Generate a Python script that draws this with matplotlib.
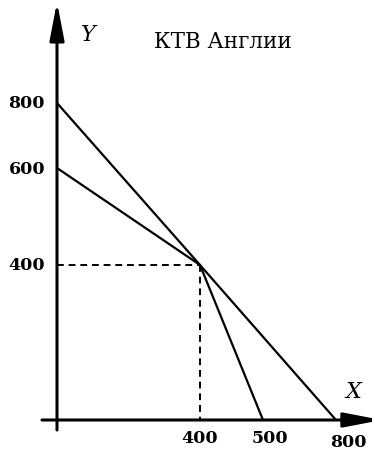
import numpy as np
import matplotlib
matplotlib.use("Agg")
from matplotlib import pyplot as plt

# данные (КТВ Англии)
ktv1_x = [0, 400, 800]
ktv1_y = [800, 400, 0]
ktv2_x = [0, 400, 500]
ktv2_y = [600, 400, 0]
punkt = (400, 400)  # точка пересечения
x_ticks = [400, 500, 800]
y_ticks = [400, 600, 800]
title = "КТВ Англии"

W, H = 372, 452

# схема не в масштабе -> кусочно-линейная шкала (данные -> пиксели)
x_knots, x_pix = [0, 400, 500, 800], [57, 200, 263, 336]
y_knots, y_pix = [0, 400, 600, 800], [31, 186, 283, 348]


def kusochno(a, b):
    a = np.asarray(a, float)
    b = np.asarray(b, float)
    s0 = (b[1] - b[0]) / (a[1] - a[0])
    s1 = (b[-1] - b[-2]) / (a[-1] - a[-2])

    def f(v):
        v = np.asarray(v, float)
        out = np.interp(v, a, b)
        out = np.where(v < a[0], b[0] + (v - a[0]) * s0, out)
        out = np.where(v > a[-1], b[-1] + (v - a[-1]) * s1, out)
        return out
    return f


fx, ix = kusochno(x_knots, x_pix), kusochno(x_pix, x_knots)
fy, iy = kusochno(y_knots, y_pix), kusochno(y_pix, y_knots)

fig = plt.figure(figsize=(W / 100, H / 100), dpi=100)
ax = fig.add_axes([42 / W, 21 / H, 330 / W, 423 / H])
ax.set_xscale('function', functions=(fx, ix))
ax.set_yscale('function', functions=(fy, iy))
ax.set_xlim(float(ix(42)), float(ix(372)))
ax.set_ylim(float(iy(21)), float(iy(444)))
ax.axis('off')

# оси со стрелками
strelka = dict(arrowstyle='-|>,head_length=1.15,head_width=0.22', lw=2.2,
               color='k', shrinkA=0, shrinkB=0, mutation_scale=20)
ax.annotate('', xy=(1.03, 0), xytext=(0, 0), xycoords=ax.get_yaxis_transform(),
            textcoords=ax.get_yaxis_transform(), arrowprops=strelka,
            annotation_clip=False)
ax.annotate('', xy=(0, 1.012), xytext=(0, 0), xycoords=ax.get_xaxis_transform(),
            textcoords=ax.get_xaxis_transform(), arrowprops=strelka,
            annotation_clip=False)

ax.plot(ktv1_x, ktv1_y, color='k', lw=1.6, clip_on=False, solid_capstyle='butt')
ax.plot(ktv2_x, ktv2_y, color='k', lw=1.6, clip_on=False, solid_capstyle='butt')

px, py = punkt
ax.plot([0, px], [py, py], color='k', lw=1.4, dashes=(3.5, 2.5))
ax.plot([px, px], [py, 0], color='k', lw=1.4, dashes=(3.5, 2.5))

num = dict(family='DejaVu Serif', fontweight='bold', fontsize=12.5, color='k')
for v in y_ticks:
    ax.annotate(str(v), xy=(0, v), xytext=(-12, 0), textcoords='offset pixels',
                ha='right', va='center', **num)
x_off = [(0, -18), (7, -18), (12, -22)]
for v, (dx, dy) in zip(x_ticks, x_off):
    ax.annotate(str(v), xy=(v, 0), xytext=(dx, dy), textcoords='offset pixels',
                ha='center', va='center', annotation_clip=False, **num)

fig.text(88 / W, 1 - 35 / H, 'Y', family='DejaVu Serif', style='italic',
         fontsize=16, ha='center', va='center')
fig.text(353 / W, 1 - 392 / H, 'X', family='DejaVu Serif', style='italic',
         fontsize=16, ha='center', va='center')
fig.text(223 / W, 1 - 42 / H, title, family='DejaVu Serif', fontsize=15.5,
         ha='center', va='center')

fig.savefig('out.png', dpi=100)
